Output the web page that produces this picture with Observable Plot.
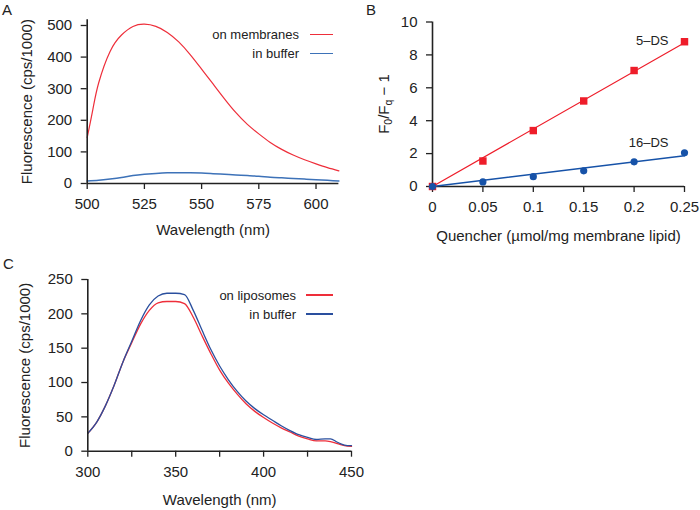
<!DOCTYPE html>
<html><head><meta charset="utf-8">
<script src="https://cdn.jsdelivr.net/npm/d3@7"></script>
<script src="https://cdn.jsdelivr.net/npm/@observablehq/plot@0.6"></script>
<style>
body{margin:0;background:#fff;font-family:"Liberation Sans",Arial,Helvetica,sans-serif;color:#222}
#fig{position:relative;width:700px;height:510px;overflow:hidden;background:#fff}
.panel{position:absolute}
.letter{position:absolute;font-size:15px;line-height:17px}
.legend{position:absolute;font-size:13px}
.legend .row{display:flex;justify-content:flex-end;align-items:center;height:19px}
.legend .sw{display:inline-block;height:1.6px}
.ylab{position:absolute;font-size:15px;white-space:nowrap;transform:translate(-50%,-50%) rotate(-90deg)}
.ylab sub{font-size:70%;vertical-align:-0.3em;line-height:0}
</style>
</head><body>
<div id="fig"></div>
<script>
// ---------- Panel A data ----------
const wlA_mem = [500, 502.5, 505, 510, 515, 520, 525, 530, 535, 540, 545, 550, 555, 560, 565, 570, 575, 580, 585, 590, 595, 600, 605, 610];
const membranesA = [145, 235, 318, 418, 470, 497, 504, 497, 478, 448, 408, 362, 315, 268, 224, 187, 157, 130, 108, 90, 75, 62, 50, 40];
const wlA_buf = [500, 505, 510, 515, 520, 525, 530, 535, 540, 545, 550, 555, 560, 565, 570, 575, 580, 585, 590, 595, 600, 605, 610];
const bufferA = [8, 10, 14, 19, 25, 29, 32, 34, 34, 34, 33, 31, 29, 27, 25, 23, 20, 18, 16, 14, 12, 10, 8];
const xTicksA = [500, 525, 550, 575, 600];
const yTicksA = [0, 100, 200, 300, 400, 500];
const seriesNamesA = ["on membranes", "in buffer"];
const colorsA = ["#ee2e3a", "#3d72b8"];

// ---------- Panel B data ----------
const quencher = [0, 0.05, 0.1, 0.15, 0.2, 0.25];
const ds5 = [0, 1.55, 3.4, 5.2, 7.05, 8.8];
const ds16 = [0, 0.28, 0.6, 0.95, 1.5, 2.05];
const seriesNamesB = ["5\u2013DS", "16\u2013DS"];
const colorsB = ["#ee1d2a", "#1652a8"];
const xTicksB = [0, 0.05, 0.1, 0.15, 0.2, 0.25];
const yTicksB = [0, 2, 4, 6, 8, 10];

// ---------- Panel C data ----------
const wlC = [300, 305, 310, 315, 320, 325, 330, 335, 340, 345, 350, 355, 360, 365, 370, 375, 380, 385, 390, 395, 400, 405, 410, 415, 420, 425, 430, 435, 438, 442, 446, 450];
const liposomesC = [26, 42, 66, 96, 130, 158, 185, 205, 216, 218, 218, 215, 195, 168, 142, 118, 99, 83, 69, 58, 49, 41, 34, 28, 22, 18, 15, 15, 14, 11, 8, 7];
const bufferC = [26, 42, 66, 96, 130, 160, 190, 213, 226, 230, 230, 228, 205, 176, 148, 124, 104, 87, 73, 62, 53, 45, 37, 30, 24, 20, 17, 18, 18, 13, 9, 8];
const xTicksC = [300, 325, 350, 375, 400, 425, 450];
const yTicksC = [0, 50, 100, 150, 200, 250];
const seriesNamesC = ["on liposomes", "in buffer"];
const colorsC = ["#ee2e3a", "#2a4f9e"];

const axisColor = "#222";
const fontFamily = '"Liberation Sans", Arial, Helvetica, sans-serif';
const style = {fontFamily, fontSize: "15px", color: "#222", background: "transparent", overflow: "visible"};

const fig = document.getElementById("fig");
function place(node, left, top) {
  node.classList.add("panel");
  node.style.left = left + "px";
  node.style.top = top + "px";
  fig.appendChild(node);
}
function axes(xTicks, yTicks, xFmt) {
  return [
    Plot.axisX({ticks: xTicks, tickSize: 6, tickPadding: 9, fontSize: 15, label: null, stroke: axisColor, strokeWidth: 1.3, tickFormat: xFmt || (d => String(d))}),
    Plot.axisY({ticks: yTicks, tickSize: 6, tickPadding: 9, fontSize: 15, label: null, stroke: axisColor, strokeWidth: 1.3, tickFormat: d => String(d)})
  ];
}
function rows(xs, ys) { return xs.map((x, i) => ({x, y: ys[i]})); }

// ---------- Panel A ----------
const plotA = Plot.plot({
  width: 350, height: 250,
  marginLeft: 86.7, marginRight: 11.6, marginTop: 19.3, marginBottom: 67,
  x: {domain: [500, 610]},
  y: {domain: [0, 518]},
  style,
  marks: [
    ...axes(xTicksA, yTicksA),
    Plot.line(rows(wlA_mem, membranesA), {x: "x", y: "y", stroke: colorsA[0], strokeWidth: 1.2, curve: "natural"}),
    Plot.line(rows(wlA_buf, bufferA), {x: "x", y: "y", stroke: colorsA[1], strokeWidth: 1.5, curve: "natural"}),
    Plot.ruleY([0], {stroke: axisColor, strokeWidth: 1.6}),
    Plot.ruleX([500], {stroke: axisColor, strokeWidth: 1.6}),
    Plot.text(["Wavelength (nm)"], {text: d => d, frameAnchor: "bottom", lineAnchor: "bottom", dy: 51, fontSize: 15, fill: "#222"}),
    Plot.text(["Fluorescence (cps/1000)"], {text: d => d, frameAnchor: "left", textAnchor: "middle", rotate: -90, dx: -60, fontSize: 15, fill: "#222"})
  ]
});
place(plotA, 0, 0);

// ---------- Panel B ----------
function fitThroughOrigin(xs, ys) {
  const s = d3.sum(xs, (x, i) => x * ys[i]) / d3.sum(xs, x => x * x);
  return d3.extent(xs).map(x => ({x, y: s * x}));
}
const ptsRed = rows(quencher, ds5);
const ptsBlue = rows(quencher, ds16);
const plotB = Plot.plot({
  width: 350, height: 250,
  marginLeft: 82, marginRight: 16, marginTop: 21.5, marginBottom: 64,
  x: {domain: [0, 0.25]},
  y: {domain: [0, 10]},
  style,
  marks: [
    ...axes(xTicksB, yTicksB),
    Plot.ruleY([0], {stroke: axisColor, strokeWidth: 1.6}),
    Plot.ruleX([0], {stroke: axisColor, strokeWidth: 1.6}),
    Plot.line(fitThroughOrigin(quencher, ds5), {x: "x", y: "y", stroke: colorsB[0], strokeWidth: 1.2}),
    Plot.line(fitThroughOrigin(quencher, ds16), {x: "x", y: "y", stroke: colorsB[1], strokeWidth: 1.4}),
    Plot.dot(ptsRed, {x: "x", y: "y", symbol: "square", r: 4.2, fill: colorsB[0], stroke: "none"}),
    Plot.dot(ptsBlue, {x: "x", y: "y", symbol: "circle", r: 3.6, fill: colorsB[1], stroke: "none"}),
    Plot.text([ptsRed[ptsRed.length - 1]], {x: "x", y: "y", text: () => seriesNamesB[0], textAnchor: "end", dx: -16, dy: -1, fontSize: 13, fill: "#222"}),
    Plot.text([ptsBlue[ptsBlue.length - 1]], {x: "x", y: "y", text: () => seriesNamesB[1], textAnchor: "end", dx: -16, dy: -10, fontSize: 13, fill: "#222"}),
    Plot.text(["Quencher (\u00b5mol/mg membrane lipid)"], {text: d => d, frameAnchor: "bottom", lineAnchor: "bottom", dy: 54.5, fontSize: 15, fill: "#222"})
  ]
});
place(plotB, 350, 0);

// ---------- Panel C ----------
const plotC = Plot.plot({
  width: 370, height: 255,
  marginLeft: 87.3, marginRight: 19, marginTop: 24, marginBottom: 59.3,
  x: {domain: [300, 450]},
  y: {domain: [0, 250]},
  style,
  marks: [
    ...axes(xTicksC, yTicksC, d => (d % 50 === 0 ? String(d) : "")),
    Plot.line(rows(wlC, liposomesC), {x: "x", y: "y", stroke: colorsC[0], strokeWidth: 1.3, curve: "monotone-x"}),
    Plot.line(rows(wlC, bufferC), {x: "x", y: "y", stroke: colorsC[1], strokeWidth: 1.3, curve: "monotone-x"}),
    Plot.ruleY([0], {stroke: axisColor, strokeWidth: 1.6}),
    Plot.ruleX([300], {stroke: axisColor, strokeWidth: 1.6}),
    Plot.text(["Wavelength (nm)"], {text: d => d, frameAnchor: "bottom", lineAnchor: "bottom", dy: 54, fontSize: 15, fill: "#222"}),
    Plot.text(["Fluorescence (cps/1000)"], {text: d => d, frameAnchor: "left", textAnchor: "middle", rotate: -90, dx: -62.3, fontSize: 15, fill: "#222"})
  ]
});
place(plotC, 0, 255);

// ---------- HTML overlays: panel letters, legends, B y-label ----------
function letter(t, left, top) {
  const d = document.createElement("div");
  d.className = "letter"; d.textContent = t;
  d.style.left = left + "px"; d.style.top = top + "px";
  fig.appendChild(d);
}
letter("A", 2, 1);
letter("B", 366, 1);
letter("C", 3, 255);

function legend(names, colors, rightEdge, top, gap, swW) {
  const d = document.createElement("div");
  d.className = "legend";
  d.style.right = (700 - rightEdge) + "px";
  d.style.top = top + "px";
  names.forEach((n, i) => {
    const r = document.createElement("div");
    r.className = "row";
    const t = document.createElement("span"); t.textContent = n;
    const s = document.createElement("span"); s.className = "sw";
    s.style.width = swW + "px"; s.style.background = colors[i]; s.style.marginLeft = gap + "px";
    r.appendChild(t); r.appendChild(s); d.appendChild(r);
  });
  fig.appendChild(d);
}
legend(seriesNamesA, colorsA, 333, 25, 11, 23);
legend(seriesNamesC, colorsC, 333, 285.5, 10, 27);

const yb = document.createElement("div");
yb.className = "ylab";
yb.innerHTML = "F<sub>0</sub>/F<sub>q</sub> \u2212 1";
yb.style.left = "383px"; yb.style.top = "104px";
fig.appendChild(yb);
</script>
</body></html>
